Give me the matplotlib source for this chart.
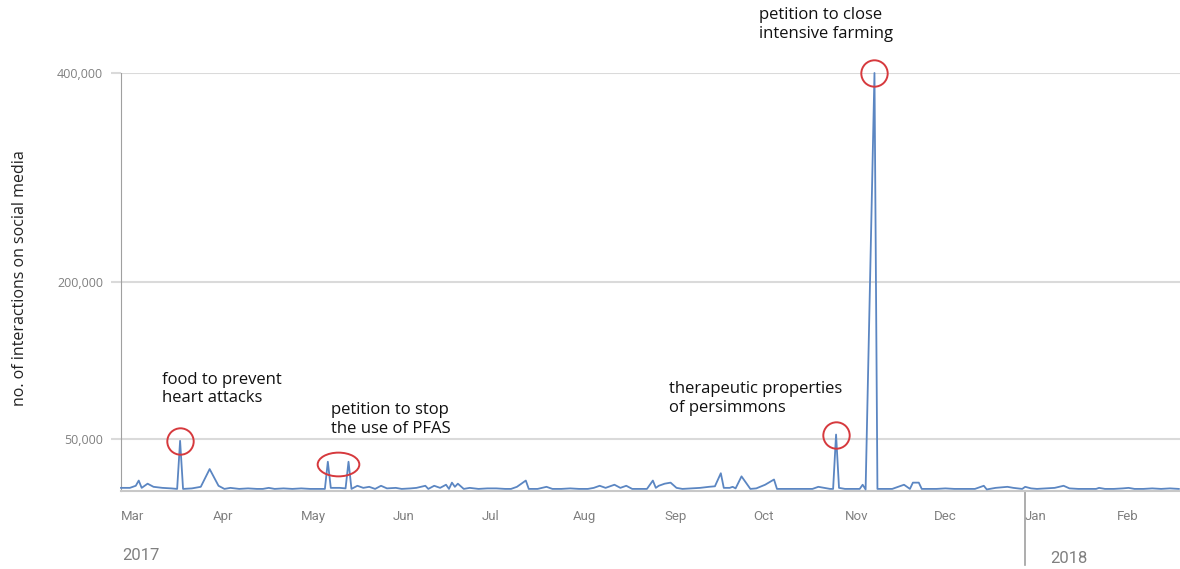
#!/usr/bin/env python3
"""Social media interactions on food topics, Mar 2017 - Feb 2018."""

import matplotlib
matplotlib.use("Agg")
import matplotlib.pyplot as plt
import matplotlib.dates as mdates
from matplotlib.path import Path
from matplotlib.transforms import Affine2D, blended_transform_factory
import pandas as pd

START = pd.Timestamp("2017-03-01")

# day offsets from START and interactions (thousands)
DAYS = [0, 3, 5, 6, 7, 9, 11, 14, 17, 19, 20, 21, 24, 27, 30, 33, 35, 37, 40, 43,
        46, 48, 50, 52, 55, 58, 61, 64, 67, 69, 70, 71, 74, 76, 77, 78, 80, 82, 84, 86,
        88, 90, 93, 95, 98, 100, 103, 104, 106, 108, 110, 111, 112, 113, 114, 116, 118, 121, 124, 127,
        130, 132, 134, 137, 138, 141, 144, 146, 149, 152, 155, 158, 160, 162, 164, 167, 169, 171, 173, 176,
        178, 180, 181, 182, 184, 186, 188, 190, 193, 196, 199, 201, 203, 204, 206, 207, 208, 210, 213, 215,
        218, 221, 222, 225, 228, 231, 234, 236, 238, 240, 241, 242, 243, 245, 248, 250, 251, 252, 255, 256,
        258, 261, 263, 265, 267, 268, 270, 271, 273, 276, 279, 282, 285, 289, 292, 293, 296, 300, 302, 305,
        306, 308, 310, 313, 316, 319, 321, 324, 327, 330, 331, 333, 336, 339, 341, 343, 346, 349, 352, 355,
        358]
VALUES_K = [3, 3, 5, 10, 3, 7, 4, 3, 2.5, 2, 48, 2, 2.5, 4, 21, 5, 2, 3, 2, 2.5,
            2, 2, 3, 2, 2.5, 2, 2.5, 2, 2, 2, 28, 3, 3, 2.5, 28, 2, 5, 3, 4, 2,
            5, 2.5, 3, 2, 2.5, 3, 5, 2, 5, 3, 6, 2, 8, 4, 7, 2, 3, 2, 2.5, 2.5,
            2, 2, 4, 10, 2, 2, 4, 2, 2, 2.5, 2, 2, 3, 5, 3, 6, 3, 5, 2, 2,
            2, 10, 3, 5, 7, 8, 3, 2, 2.5, 3, 4, 4.5, 17, 3, 3, 4, 2.5, 14, 2, 2.5,
            6, 11, 2, 2, 2, 2, 2, 4, 3, 2, 2, 54, 3, 2, 2, 2, 6, 1.5, 400, 2,
            2, 2, 4, 6, 2, 8, 8, 2, 2, 2, 2.5, 2, 2, 2, 5, 1.5, 3, 4, 3, 2,
            4, 2.5, 2, 2.5, 3, 5, 2.5, 2, 2, 2, 3, 2, 2, 2.5, 3, 2, 2, 2.5, 2, 2.5,
            2]

Y_TICKS = [50000, 200000, 400000]
MONTHS = ["2017-03-01", "2017-04-01", "2017-05-01", "2017-06-01", "2017-07-01", "2017-08-01",
          "2017-09-01", "2017-10-01", "2017-11-01", "2017-12-01", "2018-01-01", "2018-02-01"]
MONTH_LABELS = ["Mar", "Apr", "May", "Jun", "Jul", "Aug", "Sep", "Oct", "Nov", "Dec", "Jan", "Feb"]

# annotations: (day offset of the peak, text, text x day, text y value)
NOTES = [
    (20, "food to prevent\nheart attacks", 14, 114000),
    (70, "petition to stop\nthe use of PFAS", 71, 85000),
    (242, "therapeutic properties\nof persimmons", 185.5, 105000),
    (255, "petition to close\nintensive farming", 216, 463000),
]

LINE_COLOR = "#5b86c2"
RED = "#d6393d"
GRID = "#dadada"
GRAY = "#808080"
NARROW = ["Liberation Sans Narrow", "Roboto", "DejaVu Sans"]


def main() -> None:
    plt.rcParams["font.family"] = ["Open Sans", "DejaVu Sans"]
    dates = [START + pd.Timedelta(days=d) for d in DAYS]
    values = [v * 1000 for v in VALUES_K]
    series = pd.Series(values, index=dates)

    fig = plt.figure(figsize=(11.8, 5.69), dpi=100)
    ax = fig.add_axes([121 / 1180, 1 - 491 / 569, 1 - 121 / 1180, (491 - 73) / 569])

    for y in Y_TICKS:
        ax.axhline(y, color=GRID, lw=1.5, zorder=0)
    ax.plot(series.index, series.values, color=LINE_COLOR, lw=1.3, clip_on=False, zorder=3)

    ax.set_xlim(START, START + pd.Timedelta(days=358.4))
    ax.set_ylim(0, 400000)

    for side in ("top", "right"):
        ax.spines[side].set_visible(False)
    ax.spines["left"].set_color("#a0a0a0")
    ax.spines["bottom"].set_color("#c8c8c8")
    ax.spines["bottom"].set_linewidth(1.5)

    ax.set_yticks(Y_TICKS)
    ax.set_yticklabels([f"{v:,}" for v in Y_TICKS])
    ax.tick_params(axis="y", length=7, width=1.5, color=GRID, labelcolor=GRAY, labelsize=9, pad=6)

    month_dates = pd.to_datetime(MONTHS)
    ax.set_xticks(month_dates)
    ax.set_xticklabels(MONTH_LABELS, ha="left")
    ax.tick_params(axis="x", length=0, pad=14, labelcolor=GRAY, labelsize=9.5)
    for lbl in ax.get_xticklabels():
        lbl.set_family(NARROW)

    trans = blended_transform_factory(ax.transData, ax.transAxes)
    jan = mdates.date2num(pd.Timestamp("2018-01-01"))
    ax.plot([jan, jan], [-0.003, -0.177], transform=trans, color="#a0a0a0", lw=1.2, clip_on=False)
    ax.text(mdates.date2num(START) + 0.3, -0.155, "2017", transform=trans, color=GRAY,
            fontsize=12, family=NARROW, va="center")
    ax.text(jan + 8.5, -0.162, "2018", transform=trans, color=GRAY,
            fontsize=12, family=NARROW, va="center")

    ax.set_ylabel("no. of interactions on social media", fontsize=11.5, color="#222222")
    ax.yaxis.set_label_coords(-0.088, 0.51)

    # red circles on the peaks
    for d, _, _, _ in NOTES[:1] + NOTES[2:]:
        i = DAYS.index(d)
        ax.plot(series.index[i], series.values[i], "o", ms=19, mfc="none", mec=RED, mew=1.4,
                clip_on=False, zorder=4)
    ellipse = Path.unit_circle().transformed(Affine2D().scale(1.0, 0.57))
    i1, i2 = DAYS.index(70), DAYS.index(77)
    mid = series.index[i1] + (series.index[i2] - series.index[i1]) / 2
    ax.plot(mid, series.values[i1] - 2000, marker=ellipse, ms=30, mfc="none", mec=RED, mew=1.4,
            clip_on=False, zorder=4)

    for _, text, tx, ty in NOTES:
        ax.text(START + pd.Timedelta(days=tx), ty, text, fontsize=12, color="#111111",
                va="top", ha="left", linespacing=1.2, clip_on=False)

    fig.savefig("out.png", dpi=100)


if __name__ == "__main__":
    main()
